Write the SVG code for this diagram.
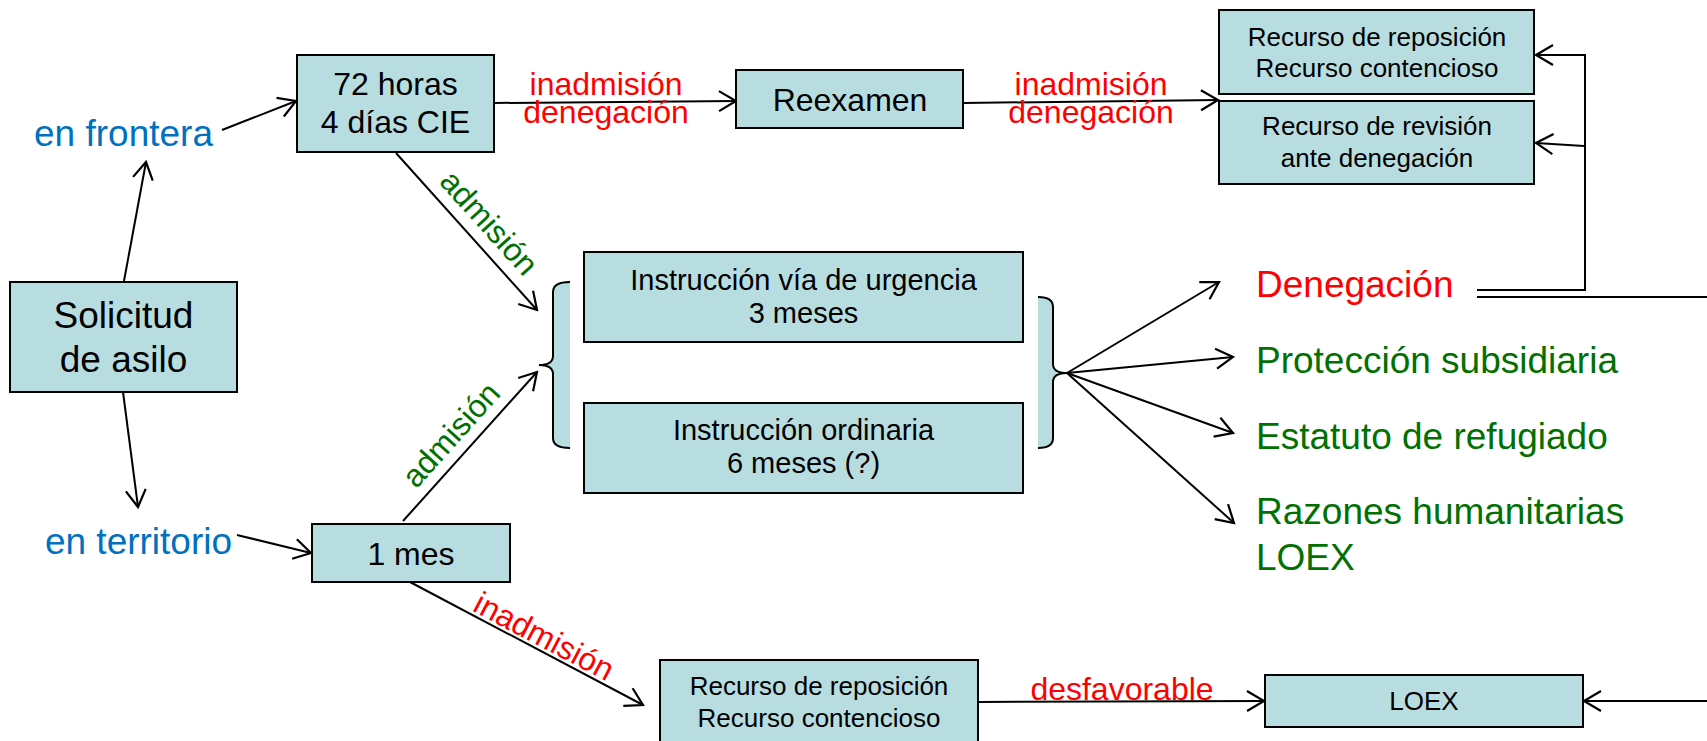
<svg xmlns="http://www.w3.org/2000/svg" width="1707" height="741" viewBox="0 0 1707 741">
<style>
text{font-family:"Liberation Sans",Arial,sans-serif;}
.box{fill:#B8DDE1;stroke:#000;stroke-width:2;}
.c{text-anchor:middle;}
.k{fill:#000;}
.red{fill:#FF0000;}
.grn{fill:#007000;}
.blu{fill:#0070C0;}
.f37{font-size:37px;}
.f32{font-size:32px;}
.f29{font-size:29px;}
.f26{font-size:26px;}
.ln{fill:none;stroke:#000;stroke-width:2;}
.ar{fill:none;stroke:#000;stroke-width:2;marker-end:url(#arr);}
</style>
<defs>
<marker id="arr" markerUnits="userSpaceOnUse" markerWidth="24" markerHeight="24" refX="20" refY="12" orient="auto" overflow="visible">
<path d="M3,2 L20,12 L3,22" fill="none" stroke="#000" stroke-width="2.2"/>
</marker>
</defs>
<rect width="1707" height="741" fill="#fff"/>

<g id="connectors">
<line class="ar" x1="124" y1="281" x2="146" y2="162"/>
<line class="ar" x1="222" y1="130" x2="296" y2="101"/>
<line class="ar" x1="123" y1="392" x2="138" y2="507"/>
<line class="ar" x1="237" y1="535" x2="311" y2="553"/>
<line class="ar" x1="494" y1="103" x2="736" y2="101"/>
<line class="ar" x1="963" y1="103" x2="1218" y2="100"/>
<line class="ar" x1="396" y1="153" x2="537" y2="310"/>
<line class="ar" x1="403" y1="521" x2="537" y2="372"/>
<line class="ar" x1="410" y1="582" x2="643" y2="705"/>
<line class="ar" x1="978" y1="702" x2="1264" y2="701"/>
<line class="ar" x1="1067" y1="373" x2="1219" y2="282"/>
<line class="ar" x1="1067" y1="373" x2="1233" y2="357"/>
<line class="ar" x1="1067" y1="373" x2="1233" y2="433"/>
<line class="ar" x1="1067" y1="373" x2="1234" y2="523"/>
<polyline class="ar" points="1477,290 1585,290 1585,55 1536,55"/>
<line class="ar" x1="1584" y1="146" x2="1536" y2="143"/>
<line class="ln" x1="1477" y1="297" x2="1707" y2="297"/>
<line class="ar" x1="1707" y1="701" x2="1584" y2="701"/>
</g>

<g id="edge-labels">
<text class="c red f32" x="606" y="95">inadmisión</text>
<text class="c red f32" x="606" y="123">denegación</text>
<text class="c red f32" x="1091" y="95">inadmisión</text>
<text class="c red f32" x="1091" y="123">denegación</text>
<text class="c grn f32" transform="translate(481,230) rotate(48)">admisión</text>
<text class="c grn f32" transform="translate(459,442) rotate(-48)">admisión</text>
<text class="c red f32" transform="translate(539,646) rotate(27.8)">inadmisión</text>
<text class="c red f32" x="1122" y="700">desfavorable</text>
</g>

<g id="solicitud">
<rect class="box" x="10" y="282" width="227" height="110"/>
<text class="c k f37" x="123.5" y="328">Solicitud</text>
<text class="c k f37" x="123.5" y="372">de asilo</text>
</g>

<g id="en-frontera">
<text class="c blu f37" x="123.5" y="146">en frontera</text>
</g>

<g id="en-territorio">
<text class="c blu f37" x="138.5" y="554">en territorio</text>
</g>

<g id="plazo-frontera">
<rect class="box" x="297" y="55" width="197" height="97"/>
<text class="c k f32" x="395.5" y="95">72 horas</text>
<text class="c k f32" x="395.5" y="133">4 días CIE</text>
</g>

<g id="reexamen">
<rect class="box" x="736" y="70" width="227" height="58"/>
<text class="c k f32" x="850" y="111">Reexamen</text>
</g>

<g id="recursos-top">
<rect class="box" x="1219" y="10" width="315" height="84"/>
<text class="c k f26" x="1377" y="46">Recurso de reposición</text>
<text class="c k f26" x="1377" y="77">Recurso contencioso</text>
</g>

<g id="recurso-revision">
<rect class="box" x="1219" y="101" width="315" height="83"/>
<text class="c k f26" x="1377" y="135">Recurso de revisión</text>
<text class="c k f26" x="1377" y="167">ante denegación</text>
</g>

<g id="brace-left">
<path d="M570,282 Q553,282 553,292 L553,356 Q553,365 539,365 Q553,365 553,374 L553,438 Q553,448 570,448 Z" fill="#B8DDE1" stroke="none"/>
<path class="ln" d="M570,282 Q553,282 553,292 L553,356 Q553,365 539,365 Q553,365 553,374 L553,438 Q553,448 570,448"/>
</g>

<g id="instruccion-urgencia">
<rect class="box" x="584" y="252" width="439" height="90"/>
<text class="c k f29" x="803.5" y="290">Instrucción vía de urgencia</text>
<text class="c k f29" x="803.5" y="323">3 meses</text>
</g>

<g id="instruccion-ordinaria">
<rect class="box" x="584" y="403" width="439" height="90"/>
<text class="c k f29" x="803.5" y="440">Instrucción ordinaria</text>
<text class="c k f29" x="803.5" y="473">6 meses (?)</text>
</g>

<g id="brace-right">
<path d="M1038,297 Q1053,297 1053,307 L1053,364 Q1053,373 1067,373 Q1053,373 1053,382 L1053,438 Q1053,448 1038,448 Z" fill="#B8DDE1" stroke="none"/>
<path class="ln" d="M1038,297 Q1053,297 1053,307 L1053,364 Q1053,373 1067,373 Q1053,373 1053,382 L1053,438 Q1053,448 1038,448"/>
</g>

<g id="denegacion">
<text class="red f37" x="1256" y="297">Denegación</text>
</g>
<g id="proteccion">
<text class="grn f37" x="1256" y="373">Protección subsidiaria</text>
</g>
<g id="estatuto">
<text class="grn f37" x="1256" y="449">Estatuto de refugiado</text>
</g>
<g id="razones">
<text class="grn f37" x="1256" y="524">Razones humanitarias</text>
<text class="grn f37" x="1256" y="570">LOEX</text>
</g>

<g id="un-mes">
<rect class="box" x="312" y="524" width="198" height="58"/>
<text class="c k f32" x="411" y="565">1 mes</text>
</g>

<g id="recursos-bottom">
<rect class="box" x="660" y="660" width="318" height="90"/>
<text class="c k f26" x="819" y="695">Recurso de reposición</text>
<text class="c k f26" x="819" y="727">Recurso contencioso</text>
</g>

<g id="loex">
<rect class="box" x="1265" y="675" width="318" height="52"/>
<text class="c k f26" x="1424" y="710">LOEX</text>
</g>
</svg>
